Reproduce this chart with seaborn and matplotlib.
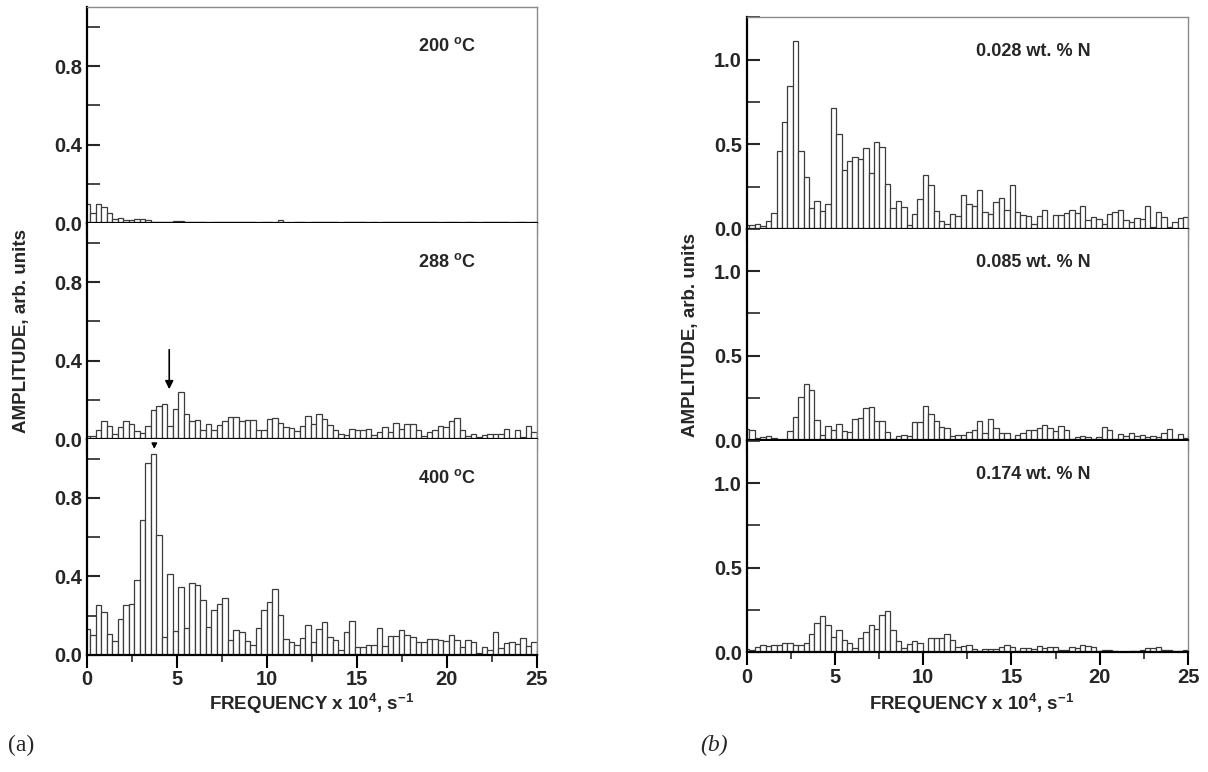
import numpy as np
import pandas as pd
import seaborn as sns
import matplotlib.pyplot as plt
from matplotlib.ticker import MultipleLocator

# frequency bins (x 10^4 s^-1), bars are centred on the bin grid
bin_width = 0.307
n_bins = 83
freq = np.round(np.arange(n_bins) * bin_width, 4)

# (a) amplitude spectra at different temperatures
amp_200 = [0.10, 0.05, 0.099, 0.082, 0.054, 0.02, 0.026, 0.015, 0.015, 0.02,
           0.02, 0.015, 0.007, 0.004, 0.004, 0.004, 0.01, 0.01, 0.006, 0.007,
           0.004, 0.004, 0.0, 0.004, 0.004, 0.007, 0.004, 0.004, 0.005, 0.008,
           0.004, 0.0, 0.004, 0.004, 0.0, 0.015, 0.0, 0.0, 0.004, 0.004,
           0.0, 0.004, 0.008, 0.004, 0.004, 0.004, 0.0, 0.004, 0.004, 0.008,
           0.004, 0.0, 0.004, 0.0, 0.004, 0.004, 0.004, 0.004, 0.005, 0.008,
           0.005, 0.004, 0.004, 0.004, 0.0, 0.004, 0.008, 0.004, 0.0, 0.004,
           0.004, 0.0, 0.004, 0.004, 0.004, 0.008, 0.004, 0.0, 0.004, 0.004,
           0.0, 0.004, 0.008]
amp_288 = [0.015, 0.015, 0.045, 0.09, 0.065, 0.027, 0.06, 0.09, 0.075, 0.04,
           0.03, 0.065, 0.146, 0.17, 0.18, 0.065, 0.153, 0.238, 0.13, 0.092,
           0.097, 0.045, 0.075, 0.046, 0.07, 0.092, 0.115, 0.115, 0.092, 0.097,
           0.097, 0.046, 0.045, 0.105, 0.11, 0.08, 0.063, 0.055, 0.04, 0.065,
           0.117, 0.075, 0.126, 0.105, 0.07, 0.044, 0.027, 0.02, 0.054, 0.044,
           0.044, 0.049, 0.022, 0.034, 0.06, 0.034, 0.08, 0.054, 0.078, 0.075,
           0.044, 0.014, 0.037, 0.044, 0.068, 0.06, 0.092, 0.11, 0.044, 0.014,
           0.027, 0.01, 0.019, 0.024, 0.027, 0.027, 0.054, 0.003, 0.044, 0.009,
           0.068, 0.036, 0.03]
amp_400 = [0.13, 0.10, 0.255, 0.22, 0.105, 0.07, 0.18, 0.255, 0.26, 0.38,
           0.685, 0.98, 1.025, 0.61, 0.09, 0.41, 0.12, 0.345, 0.135, 0.365,
           0.355, 0.28, 0.14, 0.23, 0.26, 0.29, 0.075, 0.125, 0.115, 0.07,
           0.05, 0.135, 0.23, 0.27, 0.335, 0.205, 0.08, 0.065, 0.05, 0.085,
           0.15, 0.065, 0.13, 0.165, 0.09, 0.077, 0.025, 0.117, 0.17, 0.04,
           0.04, 0.05, 0.05, 0.135, 0.045, 0.095, 0.095, 0.125, 0.10, 0.092,
           0.065, 0.065, 0.08, 0.078, 0.075, 0.07, 0.10, 0.077, 0.04, 0.075,
           0.063, 0.01, 0.04, 0.025, 0.117, 0.035, 0.06, 0.065, 0.055, 0.085,
           0.045, 0.065, 0.025]

# (b) amplitude spectra for different nitrogen contents
amp_n028 = [0.024, 0.024, 0.03, 0.02, 0.05, 0.096, 0.46, 0.63, 0.846, 1.11,
            0.46, 0.307, 0.122, 0.167, 0.108, 0.15, 0.717, 0.563, 0.346, 0.404,
            0.425, 0.415, 0.478, 0.333, 0.516, 0.486, 0.266, 0.126, 0.167, 0.132,
            0.026, 0.09, 0.175, 0.319, 0.262, 0.108, 0.045, 0.028, 0.09, 0.075,
            0.203, 0.148, 0.136, 0.23, 0.10, 0.089, 0.16, 0.183, 0.112, 0.26,
            0.10, 0.083, 0.077, 0.03, 0.077, 0.112, 0.006, 0.083, 0.083, 0.094,
            0.112, 0.094, 0.136, 0.053, 0.071, 0.059, 0.03, 0.089, 0.10, 0.112,
            0.053, 0.041, 0.065, 0.059, 0.136, 0.012, 0.10, 0.071, 0.012, 0.041,
            0.065, 0.071, 0.077]
amp_n085 = [0.067, 0.06, 0.014, 0.02, 0.028, 0.014, 0.004, 0.005, 0.058, 0.139,
            0.256, 0.335, 0.30, 0.121, 0.032, 0.085, 0.062, 0.097, 0.058, 0.05,
            0.127, 0.133, 0.192, 0.198, 0.115, 0.115, 0.05, 0.008, 0.026, 0.032,
            0.026, 0.109, 0.109, 0.204, 0.157, 0.115, 0.079, 0.073, 0.026, 0.032,
            0.032, 0.052, 0.06, 0.117, 0.046, 0.129, 0.075, 0.046, 0.046, 0.004,
            0.034, 0.046, 0.063, 0.06, 0.075, 0.093, 0.071, 0.054, 0.087, 0.063,
            0.01, 0.022, 0.028, 0.022, 0.01, 0.022, 0.081, 0.063, 0.01, 0.04,
            0.028, 0.046, 0.028, 0.03, 0.022, 0.028, 0.022, 0.046, 0.069, 0.01,
            0.04, 0.016, 0.034]
amp_n174 = [0.02, 0.014, 0.03, 0.042, 0.036, 0.042, 0.042, 0.054, 0.054, 0.042,
            0.042, 0.054, 0.107, 0.173, 0.214, 0.161, 0.089, 0.131, 0.071, 0.054,
            0.024, 0.083, 0.119, 0.161, 0.137, 0.22, 0.244, 0.131, 0.065, 0.024,
            0.048, 0.065, 0.054, 0.0, 0.083, 0.083, 0.083, 0.107, 0.071, 0.03,
            0.036, 0.041, 0.02, 0.006, 0.022, 0.022, 0.022, 0.034, 0.044, 0.034,
            0.01, 0.028, 0.028, 0.022, 0.038, 0.028, 0.032, 0.034, 0.012, 0.016,
            0.034, 0.028, 0.044, 0.04, 0.034, 0.01, 0.016, 0.016, 0.01, 0.0,
            0.004, 0.01, 0.01, 0.016, 0.028, 0.028, 0.032, 0.016, 0.016, 0.006,
            0.006, 0.016, 0.01]

temp_labels = [r'200 $^{\mathbf{o}}$C', r'288 $^{\mathbf{o}}$C', r'400 $^{\mathbf{o}}$C']
nitrogen_labels = ['0.028 wt. % N', '0.085 wt. % N', '0.174 wt. % N']

sns.set_style('ticks')
plt.rcParams['font.family'] = ['Liberation Sans', 'DejaVu Sans']
plt.rcParams['font.weight'] = 'bold'
plt.rcParams['mathtext.fontset'] = 'custom'
plt.rcParams['mathtext.bf'] = 'Liberation Sans:bold'
plt.rcParams['mathtext.rm'] = 'Liberation Sans:bold'
plt.rcParams['mathtext.default'] = 'bf'

fig = plt.figure(figsize=(12.08, 7.72), dpi=100)


def draw_panel(rect, values, ymax, ymajor, label, label_xy, is_top, is_bottom):
    ax = fig.add_axes(rect)
    df = pd.DataFrame({'freq': freq, 'amp': values})
    sns.barplot(data=df, x='freq', y='amp', native_scale=True, width=1.0,
                color='white', edgecolor='#3c3c3c', linewidth=0.9,
                errorbar=None, ax=ax)
    ax.set_xlim(0, 25)
    ax.set_ylim(0, ymax)
    ax.xaxis.set_major_locator(MultipleLocator(5))
    ax.xaxis.set_minor_locator(MultipleLocator(2.5))
    ax.yaxis.set_major_locator(MultipleLocator(ymajor))
    ax.yaxis.set_minor_locator(MultipleLocator(ymajor / 2))
    ax.yaxis.set_major_formatter(plt.FormatStrFormatter('%.1f'))
    ax.tick_params(axis='x', which='major', direction='out', length=9, width=1.5,
                   labelsize=14.5, pad=2, labelbottom=is_bottom, color='black')
    ax.tick_params(axis='x', which='minor', direction='out', length=5, width=1.2)
    ax.tick_params(axis='y', which='major', direction='in', length=9, width=1.5,
                   labelsize=14.5)
    ax.tick_params(axis='y', which='minor', direction='in', length=9, width=1.2)
    ax.set_xlabel('')
    ax.set_ylabel('')
    for side in ['left', 'bottom']:
        ax.spines[side].set_linewidth(1.6)
        ax.spines[side].set_color('black')
    ax.spines['right'].set_color('#8a8a8a')
    ax.spines['right'].set_linewidth(1.0)
    ax.spines['top'].set_color('#8a8a8a')
    ax.spines['top'].set_linewidth(1.0)
    ax.spines['top'].set_visible(is_top)
    ax.text(label_xy[0], label_xy[1], label, transform=ax.transAxes,
            ha='center', va='center', fontsize=13, fontweight='bold')
    for t in ax.get_xticklabels() + ax.get_yticklabels():
        t.set_fontweight('bold')
    return ax


W, H = 1208.0, 772.0

# left column, (a)
left_x0, left_w = 87.3 / W, 449.2 / W
left_tops = [7.4, 223.3, 439.0]
left_h = 215.8
left_series = [amp_200, amp_288, amp_400]
left_axes = []
for i in range(3):
    y0 = 1 - (left_tops[i] + left_h) / H
    ax = draw_panel([left_x0, y0, left_w, left_h / H], left_series[i], 1.1, 0.4,
                    temp_labels[i], (0.8, 0.82), i == 0, i == 2)
    left_axes.append(ax)

# right column, (b)
right_x0, right_w = 746.7 / W, 441.3 / W
right_tops = [17.3, 228.7, 440.7]
right_h = 211.7
right_series = [amp_n028, amp_n085, amp_n174]
for i in range(3):
    y0 = 1 - (right_tops[i] + right_h) / H
    draw_panel([right_x0, y0, right_w, right_h / H], right_series[i], 1.25, 0.5,
               nitrogen_labels[i], (0.65, 0.84), i == 0, i == 2)

# arrows marking the relaxation peak
left_axes[1].annotate('', xy=(4.56, 0.24), xytext=(4.56, 0.47),
                      arrowprops=dict(arrowstyle='-|>', color='black', lw=1.2,
                                      mutation_scale=12))
left_axes[2].annotate('', xy=(3.73, 1.035), xytext=(3.73, 1.09),
                      arrowprops=dict(arrowstyle='-|>', color='black', lw=1.0,
                                      mutation_scale=8), annotation_clip=False)

# axis titles
ylab = 'AMPLITUDE, arb. units'
fig.text(22 / W, 1 - 331 / H, ylab, rotation=90, ha='center', va='center',
         fontsize=13.5, fontweight='bold')
fig.text(690 / W, 1 - 335 / H, ylab, rotation=90, ha='center', va='center',
         fontsize=13.5, fontweight='bold')
xlab = r'FREQUENCY x 10$^{\mathbf{4}}$, s$^{\mathbf{-1}}$'
fig.text(312 / W, 1 - 704 / H, xlab, ha='center', va='center', fontsize=13.5,
         fontweight='bold')
fig.text(972 / W, 1 - 704 / H, xlab, ha='center', va='center', fontsize=13.5,
         fontweight='bold')

fig.text(8 / W, 1 - 745 / H, '(a)', ha='left', va='center', fontsize=17,
         family='Liberation Serif', fontweight='normal')
fig.text(700 / W, 1 - 745 / H, '(b)', ha='left', va='center', fontsize=17,
         family='Liberation Serif', style='italic', fontweight='normal')

fig.savefig('out.png', dpi=100)
